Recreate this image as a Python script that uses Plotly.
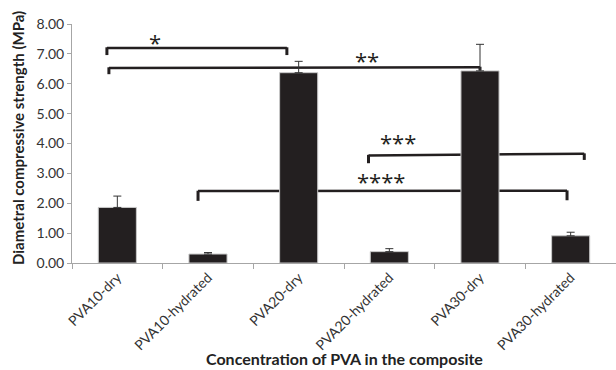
import plotly.graph_objects as go

categories = ["PVA10-dry", "PVA10-hydrated", "PVA20-dry", "PVA20-hydrated", "PVA30-dry", "PVA30-hydrated"]
strength = [1.86, 0.30, 6.37, 0.38, 6.43, 0.91]
errors = [0.38, 0.05, 0.38, 0.10, 0.89, 0.12]
y_ticks = [0, 1, 2, 3, 4, 5, 6, 7, 8]

FONT = "Lato"
fig = go.Figure()
fig.add_trace(go.Bar(
    x=categories, y=strength,
    marker=dict(color="#231f20", line=dict(color="#c8c8c8", width=1)),
    error_y=dict(type="data", array=errors, arrayminus=[0]*len(errors), symmetric=False,
                 color="#333333", thickness=1, width=4),
    width=0.42,
))

bracket_color = "#231f20"
def hline(x0, x1, y0, y1, w=2.5):
    fig.add_shape(type="line", xref="x", yref="y", x0=x0, x1=x1, y0=y0, y1=y1,
                  line=dict(color=bracket_color, width=w), layer="below")

# bracket *
hline(-0.115, 1.87, 7.20, 7.20)
hline(-0.115, -0.115, 7.22, 6.96, 3)
hline(1.87, 1.87, 7.22, 6.96, 3)
# bracket **
hline(-0.093, 4.0, 6.53, 6.55)
hline(-0.093, -0.093, 6.55, 6.32, 3)
hline(4.0, 4.0, 6.57, 6.43, 3)
# bracket ***
hline(2.77, 5.15, 3.60, 3.66)
hline(2.77, 2.77, 3.62, 3.34, 3)
hline(5.15, 5.15, 3.67, 3.45, 3)
# bracket ****
hline(0.89, 4.96, 2.41, 2.42)
hline(0.89, 0.89, 2.42, 2.08, 3)
hline(4.96, 4.96, 2.43, 2.10, 3)

stars = [("*", 0.41, 7.36), ("**", 2.75, 6.76), ("***", 3.10, 4.01), ("****", 2.91, 2.71)]
for s, x, y in stars:
    fig.add_annotation(x=x, y=y, xref="x", yref="y", text=s, showarrow=False,
                       font=dict(family="Open Sans", size=22, color="#231f20"),
                       yanchor="middle", yshift=1)

PL, PW, PT, PH = 72, 544, 24, 239
fig.add_annotation(x=0.5, y=(263 - 358) / PH, xref="paper", yref="paper",
                   yanchor="middle", text="<b>Concentration of PVA in the composite</b>",
                   showarrow=False, font=dict(family=FONT, size=16, color="#222"))
fig.add_annotation(x=(18 - PL) / PW, y=(263 - 138) / PH, xref="paper", yref="paper",
                   xanchor="center", yanchor="middle", textangle=-90,
                   text="<b>Diametral compressive strength (MPa)</b>",
                   showarrow=False, font=dict(family=FONT, size=15, color="#222"))

fig.update_layout(
    width=616, height=370,
    margin=dict(l=PL, r=0, t=PT, b=107),
    plot_bgcolor="white", paper_bgcolor="white",
    showlegend=False,
    font=dict(family=FONT, size=13, color="#333"),
)
fig.update_xaxes(showline=True, linecolor="#a6a6a6", linewidth=1,
                 ticks="outside", tickson="boundaries", ticklen=5, tickcolor="#a6a6a6",
                 tickangle=-45, tickfont=dict(size=14, family=FONT, color="#333"),
                 showgrid=False, range=[-0.5, 5.5])
fig.update_yaxes(range=[0, 8], tickvals=y_ticks, tickformat=".2f", showgrid=False,
                 showline=True, linecolor="#a6a6a6", linewidth=1, zeroline=False,
                 ticks="outside", ticklen=4, tickcolor="#a6a6a6",
                 tickfont=dict(size=14, family=FONT, color="#333"))

fig.write_html("out.html")
